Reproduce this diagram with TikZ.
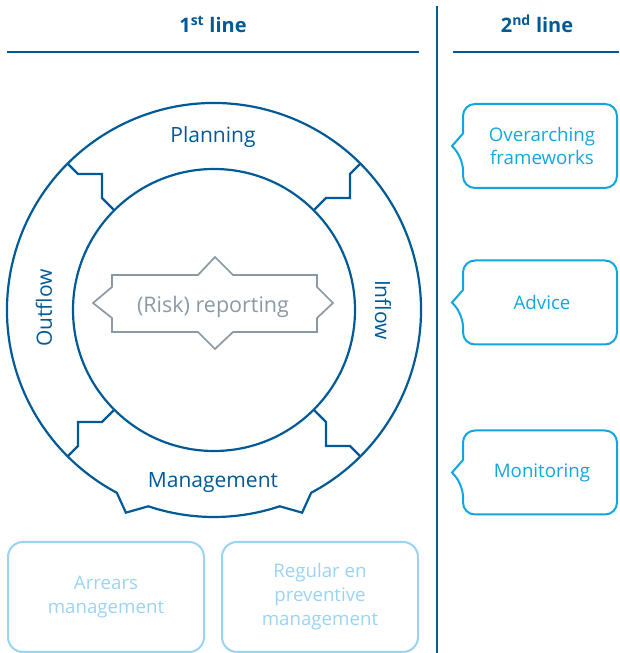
\documentclass[tikz,border=0pt]{standalone}
\usepackage{fontspec}
\setmainfont{Open Sans}
\definecolor{dkblue}{RGB}{0,90,150}
\definecolor{cyanb}{RGB}{18,166,224}
\definecolor{ltblue}{RGB}{155,211,242}
\definecolor{greyb}{RGB}{138,153,166}
\begin{document}
\begin{tikzpicture}[x=1pt,y=1pt,
  ring/.style={draw=dkblue, line width=2.2pt, line join=miter},
  lbl/.style={text=dkblue, font=\fontsize{21}{24}\selectfont, inner sep=0pt},
  head/.style={text=dkblue, font=\fontsize{20}{24}\selectfont\bfseries, inner sep=0pt},
  rule/.style={draw=dkblue, line width=2.6pt},
  speech/.style={draw=cyanb, line width=2pt},
  stxt/.style={text=cyanb, font=\fontsize{18.7}{23.5}\selectfont, align=center, inner sep=0pt},
  lbox/.style={draw=ltblue, line width=2pt, rounded corners=15, minimum width=196, minimum height=110,
    text=ltblue, align=center, font=\fontsize{18.7}{24}\selectfont},
  riskbox/.style={draw=greyb, line width=1.7pt},
  risktxt/.style={text=greyb, font=\fontsize{21.5}{24}\selectfont, inner sep=0pt}]
\useasboundingbox (0,0) rectangle (619,653);

% headers
\node[head, anchor=base] (h1) at (213,620) {1\textsuperscript{st} line};
\node[head, anchor=base] (h2) at (537,620) {2\textsuperscript{nd} line};
\coordinate (r1a) at (7,601);
\coordinate (r1b) at (419,601);
\coordinate (r2a) at (453,601);
\coordinate (r2b) at (619,601);
\draw[rule] (r1a) -- (r1b);
\draw[rule] (r2a) -- (r2b);
\coordinate (dtop) at (437,647);
\coordinate (dbot) at (437,0);
\draw[draw=dkblue, line width=1.3pt] (dtop) -- (dbot);

% ring
\coordinate (C) at (214,343);
\node[circle, draw=dkblue, line width=2.2pt, minimum size=282, inner sep=0pt] (inner) at (C) {};
\draw[ring] ([shift={(C)}]298:207) arc[start angle=298, end angle=602, radius=207]
  -- ([shift={(C)}]246.5:221) -- ([shift={(C)}]251.5:207)
  arc[start angle=251.5, end angle=288.5, radius=207]
  -- ([shift={(C)}]293.5:221) -- cycle;
\foreach \a in {0,90,180,270}{
  \begin{scope}[shift={(C)}, rotate=\a]
    \draw[ring] (135:207) -- (-136,136) -- (-112,136) -- (-112,112) -- (135:141);
  \end{scope}
}

% ring labels
\node[lbl, anchor=base] (plan) at (213,510) {Planning};
\node[lbl, anchor=base] (mgmt) at (213,165) {Management};
\node[lbl, rotate=90] (outf) at (44,345) {Outflow};
\node[lbl, rotate=-90] (inf) at (383,343) {Inflow};

% risk reporting
\draw[riskbox] (112,378) -- (198,378) -- (215,396) -- (233,378) -- (317,378) -- (317,366)
  -- (333,350) -- (317,335) -- (317,321) -- (233,321) -- (215,304) -- (198,321)
  -- (112,321) -- (112,335) -- (93,350) -- (112,366) -- cycle;
\node[risktxt, anchor=base] (risk) at (213,340) {(Risk) reporting};

% 2nd line speech boxes
\foreach \yc in {507,350.5,180.5}{
  \draw[speech] (452,\yc) -- (463,\yc+12.5) [rounded corners=12] -- (463,\yc+42) -- (617,\yc+42)
    -- (617,\yc-42) -- (463,\yc-42) -- (463,\yc-12.5) [sharp corners] -- cycle;
}
\node[stxt] (fw) at (542,507) {Overarching\\frameworks};
\node[stxt] (adv) at (542,350.5) {Advice};
\node[stxt] (mon) at (542,180.5) {Monitoring};

% bottom boxes
\node[lbox] (arr) at (106,56) {Arrears\\management};
\node[lbox] (reg) at (320,56) {Regular en\\preventive\\management};
\end{tikzpicture}
\end{document}
